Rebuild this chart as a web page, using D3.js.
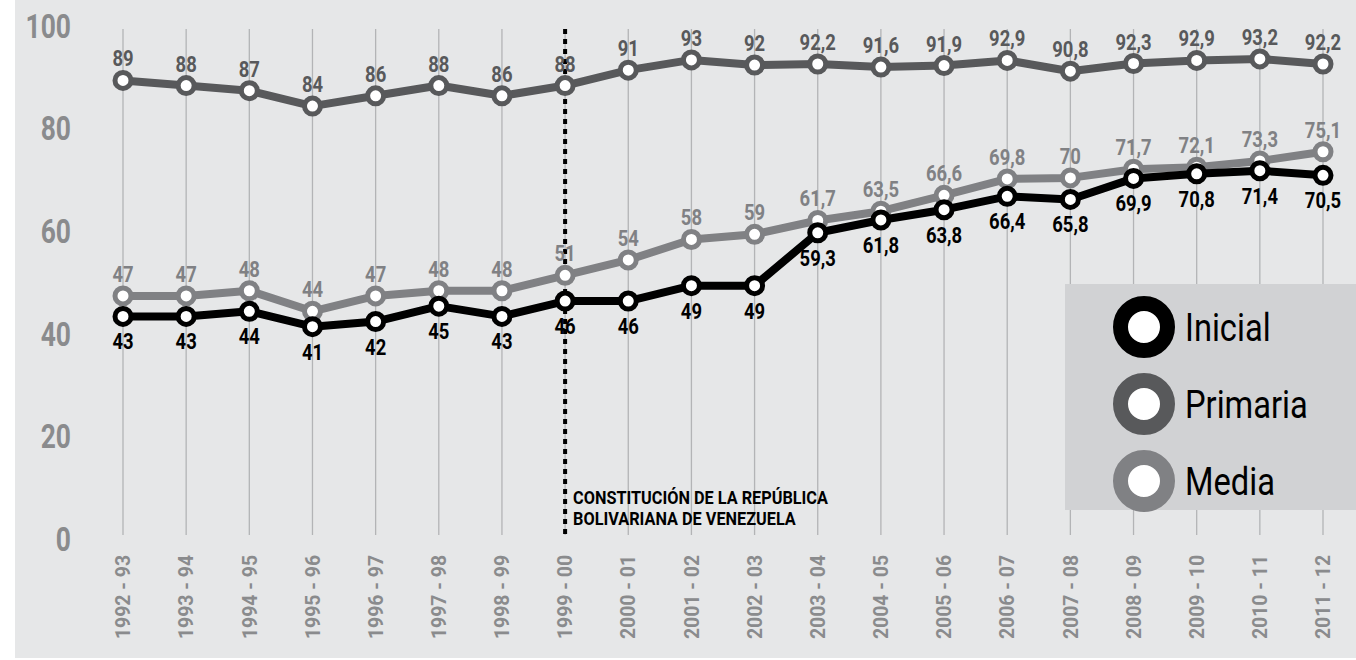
<!DOCTYPE html>
<html>
<head>
<meta charset="utf-8">
<script src="https://cdn.jsdelivr.net/npm/d3@7"></script>
<style>
  body { margin: 0; background: #fff; }
  svg text { font-family: Roboto, "Open Sans", sans-serif; }
</style>
</head>
<body>
<div id="chart"></div>
<script>
// school years
var years = ["1992 - 93","1993 - 94","1994 - 95","1995 - 96","1996 - 97","1997 - 98","1998 - 99","1999 - 00","2000 - 01","2001 - 02",
             "2002 - 03","2003 - 04","2004 - 05","2005 - 06","2006 - 07","2007 - 08","2008 - 09","2009 - 10","2010 - 11","2011 - 12"]
var inicial  = [43,43,44,41,42,45,43,46,46,49,49,59.3,61.8,63.8,66.4,65.8,69.9,70.8,71.4,70.5]
var primaria = [89,88,87,84,86,88,86,88,91,93,92,92.2,91.6,91.9,92.9,90.8,92.3,92.9,93.2,92.2]
var media    = [47,47,48,44,47,48,48,51,54,58,59,61.7,63.5,66.6,69.8,70,71.7,72.1,73.3,75.1]
var yTicks = [0,20,40,60,80,100]
var markYear = "1999 - 00"
var noteLines = ["CONSTITUCIÓN DE LA REPÚBLICA","BOLIVARIANA DE VENEZUELA"]

var series = [
  {name:"Primaria", values:primaria, color:"#58595b", pos:"above"},
  {name:"Media",    values:media,    color:"#808184", pos:"above"},
  {name:"Inicial",  values:inicial,  color:"#000000", pos:"below"}
]
var legendOrder = ["Inicial","Primaria","Media"]

var width = 1356, height = 660
var narrow = 0.82   // squeeze glyphs to look like a condensed face

var svg = d3.select("#chart").append("svg")
    .attr("width", width)
    .attr("height", height)

svg.append("rect")
    .attr("x", 15).attr("y", 0)
    .attr("width", width - 15).attr("height", 658)
    .attr("fill", "#e6e7e8")

var x = d3.scalePoint().domain(years).range([123, 1323])
var y = d3.scaleLinear().domain([0, 100]).range([537, 24])

// vertical grid
svg.append("g").selectAll("line")
    .data(years)
    .join("line")
    .attr("x1", d => x(d)).attr("x2", d => x(d))
    .attr("y1", 29).attr("y2", 535)
    .attr("stroke", "#b3b4b6")
    .attr("stroke-width", 1.3)

// y labels
svg.append("g").selectAll("text")
    .data(yTicks)
    .join("text")
    .attr("transform", d => "translate(71," + (y(d) + 2) + ") scale(0.8,1)")
    .attr("dy", "0.36em")
    .attr("text-anchor", "end")
    .attr("font-size", 33)
    .attr("font-weight", "bold")
    .attr("fill", "#8a8b8d")
    .text(d => d)

// x labels
svg.append("g").selectAll("text")
    .data(years)
    .join("text")
    .attr("transform", d => "translate(" + x(d) + ",639) rotate(-90) scale(0.97,1)")
    .attr("dy", "0.36em")
    .attr("text-anchor", "start")
    .attr("font-size", 20)
    .attr("font-weight", "bold")
    .attr("fill", "#8a8b8d")
    .text(d => d)

// constitution marker
svg.append("line")
    .attr("x1", x(markYear)).attr("x2", x(markYear))
    .attr("y1", 29).attr("y2", 536)
    .attr("stroke", "#000")
    .attr("stroke-width", 4)
    .attr("stroke-dasharray", "5,5")

svg.append("g").selectAll("text")
    .data(noteLines)
    .join("text")
    .attr("transform", (d, i) => "translate(" + (x(markYear) + 8) + "," + (504 + i * 21) + ") scale(0.88,1)")
    .attr("font-size", 18.5)
    .attr("font-weight", "bold")
    .attr("fill", "#000")
    .text(d => d)

var line = d3.line()
    .x((d, i) => x(years[i]))
    .y(d => y(d))

var fmt = v => String(v).replace(".", ",")

series.forEach(function(s){
  var g = svg.append("g")
  g.append("path")
      .datum(s.values)
      .attr("d", line)
      .attr("fill", "none")
      .attr("stroke", s.color)
      .attr("stroke-width", 8)
      .attr("stroke-linejoin", "round")
  g.selectAll("circle")
      .data(s.values)
      .join("circle")
      .attr("cx", (d, i) => x(years[i]))
      .attr("cy", d => y(d))
      .attr("r", 8)
      .attr("fill", "#fff")
      .attr("stroke", s.color)
      .attr("stroke-width", 5)
})

series.forEach(function(s){
  svg.append("g").selectAll("text")
      .data(s.values)
      .join("text")
      .attr("transform", (d, i) => "translate(" + x(years[i]) + "," + (s.pos == "above" ? y(d) - 14 : y(d) + 33) + ") scale(" + narrow + ",1)")
      .attr("text-anchor", "middle")
      .attr("font-size", 22.5)
      .attr("font-weight", "bold")
      .attr("fill", s.color)
      .text(d => fmt(d))
})

// legend
var lg = svg.append("g")
lg.append("rect")
    .attr("x", 1065).attr("y", 284)
    .attr("width", width - 1065).attr("height", 226)
    .attr("fill", "#d1d2d4")

legendOrder.forEach(function(name, i){
  var s = series.find(d => d.name == name)
  var cy = 327 + i * 77
  lg.append("circle")
      .attr("cx", 1144).attr("cy", cy)
      .attr("r", 23.5)
      .attr("fill", "#fff")
      .attr("stroke", s.color)
      .attr("stroke-width", 15)
  lg.append("text")
      .attr("transform", "translate(1185," + cy + ") scale(0.86,1)")
      .attr("dy", "0.36em")
      .attr("font-size", 38)
      .attr("fill", "#000")
      .text(name)
})
</script>
</body>
</html>
